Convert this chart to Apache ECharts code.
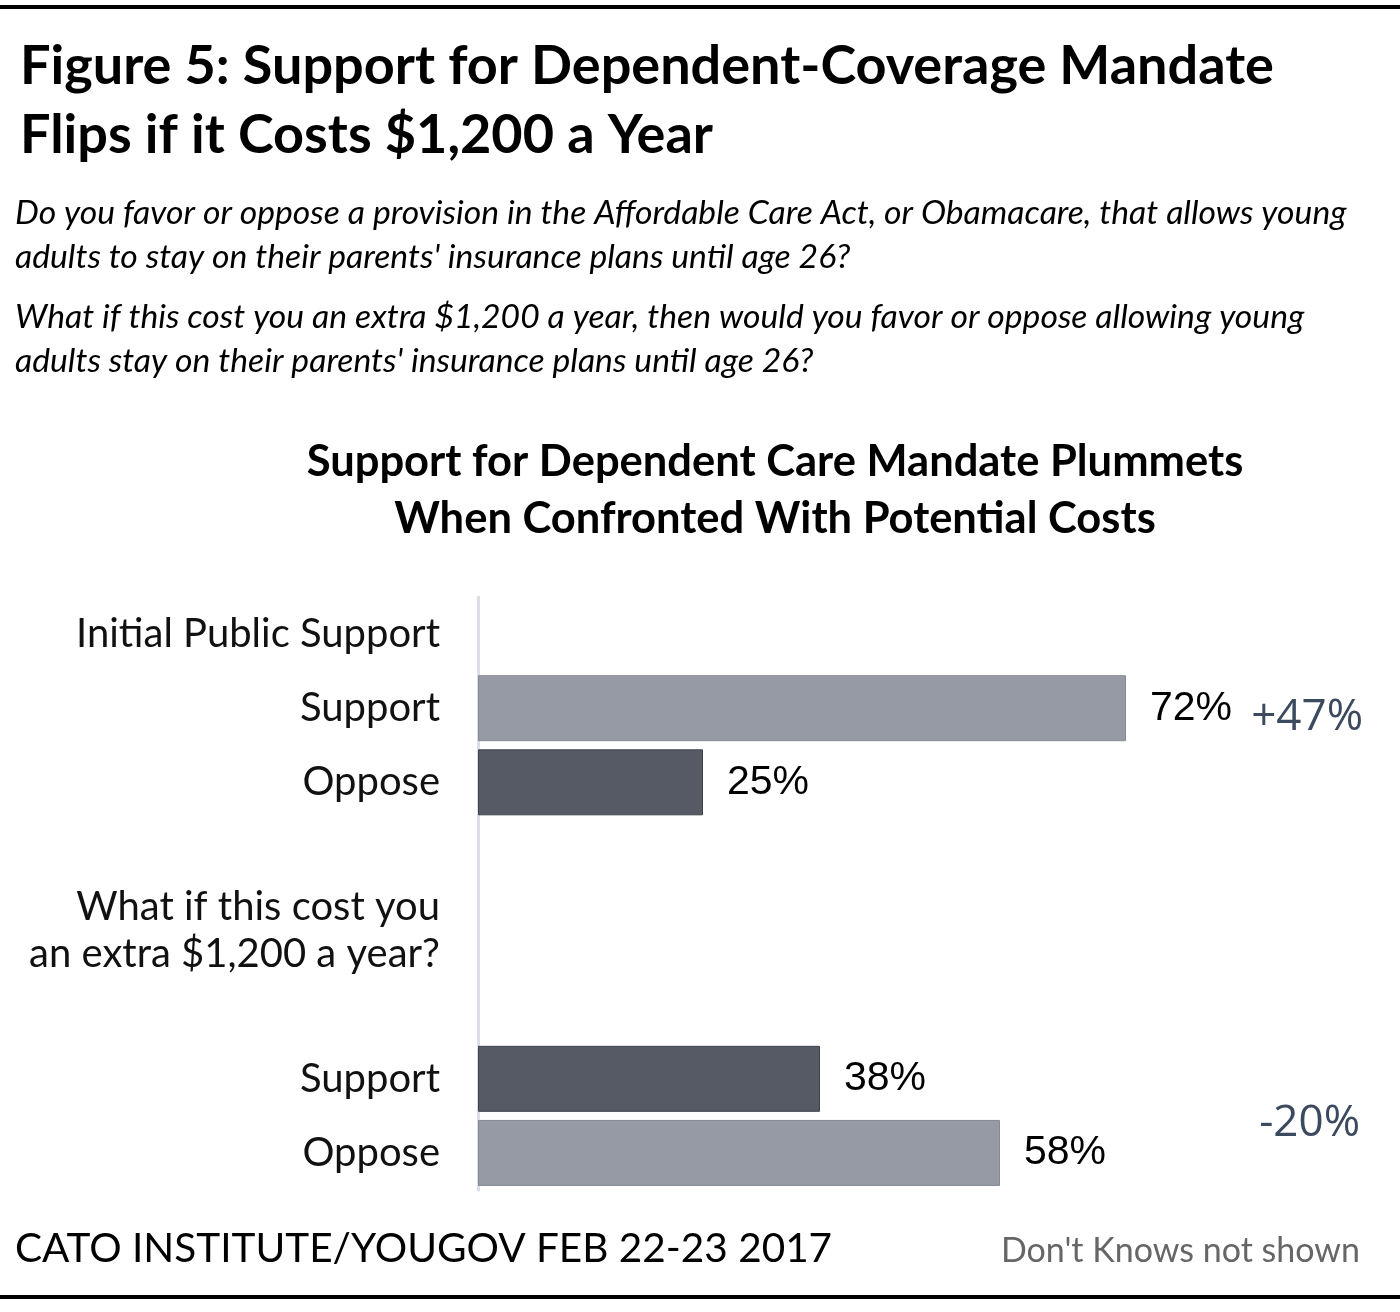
<!DOCTYPE html>
<html><head><meta charset="utf-8">
<script src="https://cdn.jsdelivr.net/npm/echarts@6/dist/echarts.min.js"></script>
<style>html,body{margin:0;padding:0;background:#fff}#c{width:1400px;height:1312px}</style>
</head><body><div id="c"></div>
<script>
const categories = ["Initial Public Support", "Support", "Oppose", "", "What if this cost you\nan extra $1,200 a year?", "", "Support", "Oppose"];
const values = [null, 72, 25, null, null, null, 38, 58];
const shades = ["", "light", "dark", "", "", "", "dark", "light"];
const diffLabels = ["+47%", "-20%"];

const colorMap = {light: "#959aa4", dark: "#555a64"};
const borderMap = {light: "#868a94", dark: "#3f434b"};

const chart = echarts.init(document.getElementById('c'));
const ids = categories.map((c, i) => 'c' + i);
chart.setOption({
  backgroundColor: '#fff',
  animation: false,
  grid: {left: 478, top: 597, right: 22, bottom: 122, containLabel: false},
  xAxis: {type: 'value', min: 0, max: 100, show: false},
  yAxis: {
    type: 'category', inverse: true, data: ids,
    axisLine: {show: true, lineStyle: {color: '#dcdde6', width: 3}},
    axisTick: {show: false},
    axisLabel: {
      formatter: (v, i) => categories[i],
      fontFamily: 'Lato', fontSize: 40, color: '#111', margin: 38, align: 'right', lineHeight: 47
    }
  },
  series: [{
    type: 'bar', barWidth: 66,
    data: values.map((v, i) => v == null ? null : {
      value: v,
      itemStyle: {color: colorMap[shades[i]], borderColor: borderMap[shades[i]], borderWidth: 1}
    }),
    label: {
      show: true, position: 'right', distance: 24,
      formatter: p => p.value + '%',
      fontFamily: 'Liberation Sans', fontSize: 41, color: '#000'
    }
  }],
  graphic: [
    {type: 'rect', shape: {x: 0, y: 5, width: 1400, height: 4}, style: {fill: '#000'}},
    {type: 'rect', shape: {x: 0, y: 1295, width: 1400, height: 4}, style: {fill: '#000'}},
    {type: 'text', left: 20, top: 32, style: {text: 'Figure 5: Support for Dependent-Coverage Mandate\nFlips if it Costs $1,200 a Year', font: 'bold 54px Lato', fill: '#000', lineHeight: 69}},
    {type: 'text', left: 15, top: 191, style: {text: "Do you favor or oppose a provision in the Affordable Care Act, or Obamacare, that allows young\nadults to stay on their parents' insurance plans until age 26?", font: 'italic 33.7px Lato', fill: '#000', lineHeight: 44}},
    {type: 'text', left: 15, top: 295, style: {text: "What if this cost you an extra $1,200 a year, then would you favor or oppose allowing young\nadults stay on their parents' insurance plans until age 26?", font: 'italic 33.7px Lato', fill: '#000', lineHeight: 44}},
    {type: 'text', x: 775, y: 490, style: {text: 'Support for Dependent Care Mandate Plummets\nWhen Confronted With Potential Costs', font: 'bold 43.5px Lato', fill: '#000', lineHeight: 57, align: 'center', verticalAlign: 'middle'}},
    {type: 'text', x: 1363, y: 717, style: {text: diffLabels[0], font: '44px "Open Sans"', fill: '#3b4a5e', align: 'right', verticalAlign: 'middle'}},
    {type: 'text', x: 1360, y: 1123, style: {text: diffLabels[1], font: '44px "Open Sans"', fill: '#3b4a5e', align: 'right', verticalAlign: 'middle'}},
    {type: 'text', x: 15, y: 1249, style: {text: 'CATO INSTITUTE/YOUGOV FEB 22-23 2017', font: '40.5px Lato', fill: '#000', verticalAlign: 'middle'}},
    {type: 'text', x: 1360, y: 1251, style: {text: "Don't Knows not shown", font: '34px Lato', fill: '#666', align: 'right', verticalAlign: 'middle'}}
  ]
});
</script></body></html>
